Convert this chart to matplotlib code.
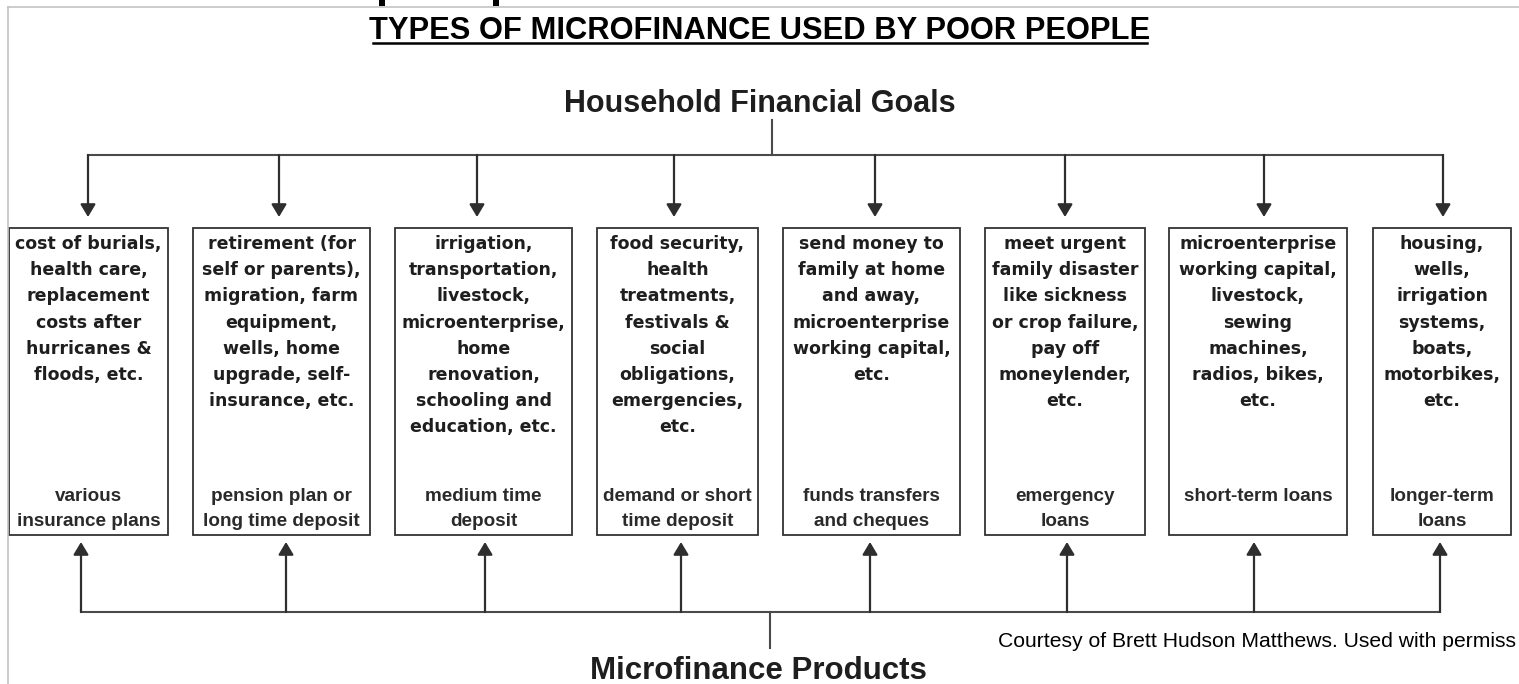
"""Diagram: types of microfinance used by poor people (goals -> products)."""

import matplotlib
matplotlib.use("Agg")
import matplotlib.pyplot as plt

# ---- content -------------------------------------------------------------
title = "TYPES OF MICROFINANCE USED BY POOR PEOPLE"
top_label = "Household Financial Goals"
bottom_label = "Microfinance Products"
credit = "Courtesy of Brett Hudson Matthews. Used with permiss"

goals = [
    ["cost of burials,", "health care,", "replacement", "costs after",
     "hurricanes &", "floods, etc."],
    ["retirement (for", "self or parents),", "migration, farm", "equipment,",
     "wells, home", "upgrade, self-", "insurance, etc."],
    ["irrigation,", "transportation,", "livestock,", "microenterprise,",
     "home", "renovation,", "schooling and", "education, etc."],
    ["food security,", "health", "treatments,", "festivals &", "social",
     "obligations,", "emergencies,", "etc."],
    ["send money to", "family at home", "and away,", "microenterprise",
     "working capital,", "etc."],
    ["meet urgent", "family disaster", "like sickness", "or crop failure,",
     "pay off", "moneylender,", "etc."],
    ["microenterprise", "working capital,", "livestock,", "sewing",
     "machines,", "radios, bikes,", "etc."],
    ["housing,", "wells,", "irrigation", "systems,", "boats,",
     "motorbikes,", "etc."],
]

products = [
    ["various", "insurance plans"],
    ["pension plan or", "long time deposit"],
    ["medium time", "deposit"],
    ["demand or short", "time deposit"],
    ["funds transfers", "and cheques"],
    ["emergency", "loans"],
    ["short-term loans"],
    ["longer-term", "loans"],
]

# ---- layout (pixel units of the 1519 x 684 canvas) -----------------------
W, H = 1519, 684
box_left = [9, 193, 395, 597, 783, 985, 1169, 1373]
box_right = [168, 370, 572, 758, 960, 1145, 1347, 1511]
box_top, box_bottom = 228, 535
down_x = [88, 279, 477, 674, 875, 1065, 1264, 1443]
up_x = [81, 286, 485, 681, 870, 1067, 1254, 1440]
top_bus_y, bottom_bus_y = 155, 612
top_stem_x, bottom_stem_x = 772, 770

LINE = "#4a4a4a"
TEXT = "#1e1e1e"

fig = plt.figure(figsize=(W / 100, H / 100), dpi=100)
ax = fig.add_axes((0, 0, 1, 1))
ax.set_xlim(0, W)
ax.set_ylim(H, 0)
ax.axis("off")

# faint page frame + cropped glyph bits at the very top
ax.plot([8, W], [7, 7], color="#c4c4c4", lw=1.2)
ax.plot([8, 8], [7, H], color="#c4c4c4", lw=1.2)
for bx in (379, 493):
    ax.add_patch(plt.Rectangle((bx, 0), 6, 6, color="black", lw=0))

# headings
ax.text(760, 39, title, ha="center", va="baseline", fontsize=22.2,
        fontweight="bold", family="Liberation Sans", color="black")
ax.plot([373, 1147], [43, 43], color="black", lw=1.8)
ax.text(760, 112, top_label, ha="center", va="baseline", fontsize=22,
        fontweight="bold", family="Liberation Sans", color=TEXT)
ax.text(758, 679, bottom_label, ha="center", va="baseline", fontsize=22.5,
        fontweight="bold", family="Liberation Sans", color=TEXT)
ax.text(998, 647, credit, ha="left", va="baseline", fontsize=15.2,
        family="Liberation Sans", color="black")

# connector buses
ax.plot([top_stem_x, top_stem_x], [120, top_bus_y], color=LINE, lw=1.5)
ax.plot([min(down_x), max(down_x)], [top_bus_y, top_bus_y], color=LINE, lw=1.5)
ax.plot([bottom_stem_x, bottom_stem_x], [bottom_bus_y, 648], color=LINE, lw=1.5)
ax.plot([min(up_x), max(up_x)], [bottom_bus_y, bottom_bus_y], color=LINE, lw=1.5)

arrow = dict(arrowstyle="-|>,head_length=0.4,head_width=0.24",
             mutation_scale=19, color="#2e2e2e", lw=1.6,
             shrinkA=0, shrinkB=0)

for i in range(len(goals)):
    x0, x1 = box_left[i], box_right[i]
    cx = (x0 + x1) / 2
    ax.add_patch(plt.Rectangle((x0, box_top), x1 - x0, box_bottom - box_top,
                               fill=False, edgecolor="#333333", lw=1.3))
    # arrow from goals bus down into the box, and from products bus up
    ax.annotate("", xy=(down_x[i], box_top - 11), xytext=(down_x[i], top_bus_y),
                arrowprops=arrow)
    ax.annotate("", xy=(up_x[i], box_bottom + 7), xytext=(up_x[i], bottom_bus_y),
                arrowprops=arrow)
    for j, line in enumerate(goals[i]):
        ax.text(cx, 249 + j * 26.2, line, ha="center", va="baseline",
                fontsize=12.5, fontweight="bold", family="DejaVu Sans", color=TEXT)
    for j, line in enumerate(products[i]):
        ax.text(cx, 501 + j * 24.5, line, ha="center", va="baseline",
                fontsize=13.6, fontweight="bold", family="Liberation Sans",
                color="#2a2a2a")

fig.savefig("out.png", dpi=100)
